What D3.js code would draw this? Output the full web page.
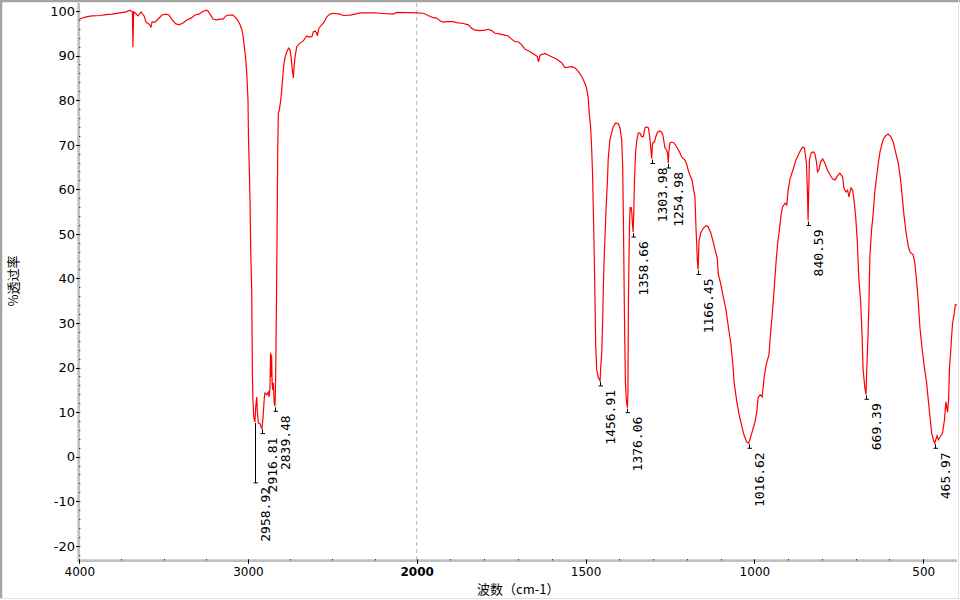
<!DOCTYPE html>
<html>
<head>
<meta charset="utf-8">
<script src="https://cdn.jsdelivr.net/npm/d3@7"></script>
<style>
  body { margin: 0; background: #fff; }
  svg { display: block; }
</style>
</head>
<body>
<div id="chart"></div>
<script>
// spectrum: wavenumber (cm-1) and %T
const wavenumbers = [
  4000, 3960, 3925, 3877, 3842, 3806, 3759, 3723, 3699, 3685, 3682, 3678, 3670, 3652, 3634, 3616,
  3605, 3587, 3575, 3569, 3551, 3533, 3510, 3486, 3468, 3450, 3427, 3409, 3385, 3362, 3338, 3314,
  3290, 3273, 3249, 3237, 3225, 3207, 3190, 3166, 3148, 3131, 3113, 3089, 3071, 3059, 3047, 3036,
  3030, 3024, 3018, 3012, 3006, 3000, 2997, 2992, 2988, 2984, 2978, 2974, 2971, 2966, 2962, 2959,
  2954, 2948, 2945, 2939, 2929, 2923, 2917, 2911, 2903, 2899, 2889, 2880, 2876, 2870, 2866, 2863,
  2860, 2857, 2854, 2850, 2845, 2840, 2836, 2833, 2830, 2826, 2824, 2820, 2814, 2806, 2800, 2794,
  2788, 2781, 2771, 2759, 2751, 2745, 2737, 2731, 2727, 2721, 2711, 2692, 2672, 2652, 2642, 2622,
  2613, 2603, 2593, 2589, 2579, 2563, 2549, 2533, 2514, 2494, 2455, 2435, 2395, 2366, 2336, 2257,
  2217, 2139, 2118, 2000,
  1980, 1966, 1951, 1941, 1931, 1921, 1911, 1892, 1882, 1862, 1847, 1837, 1827, 1813, 1798, 1788,
  1778, 1768, 1753, 1739, 1729, 1719, 1709, 1699, 1689, 1679, 1665, 1655, 1643, 1639, 1635, 1620,
  1605, 1585, 1571, 1561, 1541, 1531, 1521, 1511, 1502, 1497, 1492, 1489, 1485, 1482, 1479, 1477,
  1474, 1472, 1470, 1467, 1462, 1457, 1455, 1452, 1449, 1447, 1445, 1442, 1439, 1435, 1433, 1428,
  1423, 1418, 1411, 1403, 1398, 1393, 1390, 1388, 1385, 1382, 1379, 1376, 1374.5, 1373, 1370, 1368,
  1366, 1365, 1363, 1361, 1359, 1357, 1355, 1352, 1348, 1344, 1339, 1334, 1329, 1324, 1319, 1314,
  1310, 1306, 1304, 1302, 1299, 1296, 1292, 1287, 1280, 1275, 1271, 1265, 1260, 1257, 1255, 1253,
  1250, 1245, 1238, 1230, 1222, 1215, 1206, 1200, 1196, 1191, 1185, 1181, 1176, 1173, 1171, 1169,
  1166.5, 1164, 1162, 1159, 1151, 1143, 1137, 1129, 1122, 1114, 1110, 1107, 1100, 1092, 1084, 1077,
  1070, 1064, 1060, 1052, 1045, 1038, 1031, 1023, 1017, 1011, 1005, 998, 993, 989, 983, 977,
  971, 964, 957, 952, 946, 941, 936, 931, 926, 921, 917, 909, 904, 900, 895, 889,
  883, 877, 870, 863, 857, 852, 846, 843, 841, 839, 837, 832, 826, 821, 816, 813,
  809, 804, 798, 791, 784, 776, 768, 761, 754, 747, 739, 735, 729, 724, 720, 714,
  709, 705, 700, 695, 691, 685, 681, 678, 673, 669.4, 667, 664, 661, 658, 653, 648,
  643, 638, 633, 628, 623, 618, 611, 604, 596, 589, 582, 574, 567, 562, 557, 551,
  544, 539, 530, 525, 520, 515, 510, 503, 497, 490, 485, 480, 475, 470, 466, 462,
  459, 455, 450, 443, 437, 433, 428, 425, 422, 419, 416, 413, 408, 405, 400
];
const transmittance = [
  98.2, 98.7, 98.9, 99.0, 99.2, 99.3, 99.6, 99.8, 100.2, 99.8, 91.9, 99.8, 99.6, 98.9, 99.8, 98.9,
  97.5, 97.1, 96.4, 97.5, 97.5, 98.2, 99.1, 99.3, 99.1, 98.0, 97.1, 96.9, 97.3, 98.0, 98.4, 99.1,
  99.3, 99.8, 100.2, 100.0, 99.3, 98.2, 98.0, 98.2, 98.2, 98.9, 99.1, 99.1, 98.4, 97.8, 96.9, 95.7,
  94.6, 92.8, 90.8, 88.6, 85.0, 80.0, 71.1, 64.3, 57.6, 46.4, 37.4, 18.8, 12.7, 9.0, 8.2, 7.8,
  11.2, 13.4, 10.5, 7.6, 7.4, 6.7, 6.3, 8.7, 13.4, 14.3, 13.9, 14.5, 13.4, 15.0, 23.3, 17.9,
  22.8, 16.6, 15.0, 16.6, 12.3, 11.3, 17.9, 28.5, 39.7, 57.6, 68.1, 77.1, 77.8, 80.0, 82.3, 85.2,
  87.9, 89.5, 90.8, 91.7, 91.3, 89.7, 86.8, 85.0, 87.4, 89.7, 92.0, 92.8, 93.3, 94.4, 94.2, 94.2,
  95.3, 95.5, 95.1, 94.4, 96.2, 96.9, 97.5, 98.7, 99.3, 99.5, 99.3, 99.0, 99.1, 99.3, 99.6, 99.6,
  99.5, 99.3, 99.7, 99.6,
  99.5, 99.0, 98.5, 98.4, 97.8, 97.5, 97.6, 97.6, 97.4, 97.2, 96.9, 96.1, 95.7, 95.6, 95.7, 95.9,
  95.6, 95.0, 94.8, 94.6, 94.4, 93.7, 93.1, 93.1, 92.4, 91.4, 90.9, 90.4, 89.8, 88.6, 90.1, 90.5,
  89.9, 89.2, 88.4, 87.3, 87.5, 87.2, 86.4, 85.3, 83.8, 82.7, 80.4, 77.0, 74.0, 69.5, 62.8, 55.4,
  44.1, 35.2, 25.1, 19.5, 17.7, 17.0, 20.1, 23.3, 31.4, 39.0, 44.1, 50.2, 56.0, 62.1, 66.6, 71.1,
  72.6, 74.0, 74.9, 74.7, 73.8, 71.1, 65.0, 53.8, 32.9, 16.6, 12.5, 11.0, 14.0, 35.2, 51.5, 56.0,
  55.4, 56.0, 54.7, 52.0, 50.4, 55.4, 62.1, 68.1, 71.1, 72.6, 72.6, 71.8, 71.8, 73.8, 74.0, 73.8,
  71.8, 68.5, 66.9, 70.0, 70.6, 70.6, 71.8, 72.8, 73.1, 72.8, 72.2, 69.3, 68.8, 68.0, 65.9, 68.8,
  70.4, 70.6, 70.4, 69.5, 68.4, 67.2, 66.6, 65.5, 64.3, 63.2, 62.1, 60.3, 58.3, 51.5, 48.0, 44.0,
  42.0, 48.6, 49.0, 50.2, 51.3, 51.8, 51.6, 50.2, 48.2, 45.7, 44.6, 41.0, 38.9, 35.8, 32.9, 29.1,
  25.5, 21.0, 16.6, 12.3, 9.4, 7.1, 4.9, 3.3, 3.0, 4.4, 6.0, 7.8, 10.0, 13.2, 13.9, 13.4,
  17.9, 21.0, 22.8, 27.8, 32.9, 38.1, 43.5, 48.0, 50.9, 54.2, 56.0, 56.9, 56.5, 59.8, 62.1, 63.6,
  65.0, 66.6, 67.7, 68.8, 69.5, 69.3, 66.0, 59.8, 53.0, 59.8, 66.6, 68.1, 68.4, 68.0, 66.1, 63.9,
  64.3, 66.1, 66.8, 65.9, 64.3, 63.2, 62.3, 62.1, 63.0, 63.6, 62.8, 60.3, 59.4, 59.8, 58.3, 60.3,
  59.8, 57.6, 53.8, 48.0, 40.3, 34.5, 26.9, 19.5, 15.5, 14.0, 20.0, 26.2, 33.6, 44.8, 50.9, 54.7,
  59.8, 62.8, 65.9, 68.4, 69.9, 71.3, 72.0, 72.4, 71.8, 70.6, 68.4, 65.9, 62.1, 58.3, 54.2, 50.4,
  47.1, 45.9, 45.3, 43.5, 39.7, 35.2, 29.1, 24.0, 20.2, 16.6, 12.7, 8.9, 5.3, 3.8, 3.0, 4.0,
  4.7, 3.8, 4.4, 5.3, 8.3, 12.3, 10.0, 12.7, 20.2, 23.2, 26.9, 30.0, 32.2, 34.1, 34.0
];

// picked peaks
const peakWn = [2958.92, 2916.81, 2839.48, 1456.91, 1376.06, 1358.66, 1303.98, 1254.98, 1166.45, 1016.62, 840.59, 669.39, 465.97];
const peakT = [7.8, 6.3, 11.3, 17.0, 11.0, 50.4, 66.9, 65.9, 42.0, 3.0, 53.0, 14.0, 3.0];

const xMajorTicks = [4000, 3000, 2000, 1500, 1000, 500];
const xMinorTicks = [3750, 3500, 3250, 2750, 2500, 2250, 1900, 1800, 1700, 1600, 1400, 1300, 1200, 1100, 900, 800, 700, 600];
const yMajorTicks = [100, 90, 80, 70, 60, 50, 40, 30, 20, 10, 0, -10, -20];
const yMinorTicks = d3.range(-22, 101, 2);

const width = 960;
const height = 600;

const svg = d3.select("#chart")
  .append("svg")
  .attr("width", width)
  .attr("height", height);

// the wavenumber axis changes scale at 2000
const x = d3.scaleLinear()
  .domain([4000, 2000, 400])
  .range([79.3, 416.7, 957]);

const y = d3.scaleLinear()
  .domain([-23.3, 101.8])
  .range([560.5, 3]);

// outer frame
svg.append("line").attr("x1", 1).attr("x2", 1).attr("y1", 0).attr("y2", 598)
  .attr("stroke", "#a4a4a4").attr("stroke-width", 2.5);
svg.append("line").attr("x1", 0).attr("x2", 960).attr("y1", 1).attr("y2", 1)
  .attr("stroke", "#a4a4a4").attr("stroke-width", 2.5);
svg.append("line").attr("x1", 958.5).attr("x2", 958.5).attr("y1", 0).attr("y2", 599)
  .attr("stroke", "#e2e2e2");
svg.append("line").attr("x1", 0).attr("x2", 960).attr("y1", 598.5).attr("y2", 598.5)
  .attr("stroke", "#e2e2e2");

// dashed divider at 2000
svg.append("line")
  .attr("x1", x(2000)).attr("x2", x(2000))
  .attr("y1", y(101.8)).attr("y2", y(-23.3))
  .attr("stroke", "#b4b4b4")
  .attr("stroke-dasharray", "4,3");

// axis bars
svg.append("rect")
  .attr("x", x(4000) - 2).attr("y", y(101.8))
  .attr("width", 2.7).attr("height", y(-23.3) - y(101.8) + 1.5)
  .attr("fill", "#c0c0c0");
svg.append("rect")
  .attr("x", x(4000) - 2).attr("y", y(-23.3) - 1.2)
  .attr("width", x(400) - x(4000) + 2).attr("height", 2.7)
  .attr("fill", "#c0c0c0");

// y ticks
svg.append("g")
  .selectAll("rect")
  .data(yMinorTicks)
  .join("rect")
  .attr("x", x(4000))
  .attr("y", d => Math.round(y(d)))
  .attr("width", 1).attr("height", 1)
  .attr("fill", "#000");

svg.append("g")
  .selectAll("rect")
  .data(yMajorTicks)
  .join("rect")
  .attr("x", x(4000) - 3.3)
  .attr("y", d => Math.round(y(d)))
  .attr("width", 3).attr("height", 1)
  .attr("fill", "#000");

svg.append("g")
  .selectAll("text")
  .data(yMajorTicks)
  .join("text")
  .attr("x", 75)
  .attr("y", d => y(d) + 4.8)
  .attr("text-anchor", "end")
  .style("font-family", "DejaVu Sans")
  .style("font-size", "13px")
  .text(d => d);

// x ticks
svg.append("g")
  .selectAll("rect")
  .data(xMinorTicks)
  .join("rect")
  .attr("x", d => Math.round(x(d)))
  .attr("y", y(-23.3) - 1.2)
  .attr("width", 1).attr("height", 1)
  .attr("fill", "#000");

svg.append("g")
  .selectAll("rect")
  .data(xMajorTicks)
  .join("rect")
  .attr("x", d => Math.round(x(d)))
  .attr("y", y(-23.3) - 1.2)
  .attr("width", 1).attr("height", 4.5)
  .attr("fill", "#000");

svg.append("g")
  .selectAll("text")
  .data(xMajorTicks)
  .join("text")
  .attr("x", d => x(d) + 0.5)
  .attr("y", 576)
  .attr("text-anchor", "middle")
  .style("font-family", "DejaVu Sans")
  .style("font-size", "12px")
  .style("font-weight", d => d === 2000 ? "bold" : "normal")
  .text(d => d);

// axis titles
svg.append("text")
  .attr("x", 477)
  .attr("y", 594)
  .style("font-family", "Noto Sans CJK SC")
  .style("font-size", "13px")
  .text("波数（cm-1）");

svg.append("text")
  .attr("transform", "translate(18,281) rotate(-90)")
  .attr("text-anchor", "middle")
  .style("font-family", "Noto Sans CJK SC")
  .style("font-size", "13px")
  .text("%透过率");

// spectrum
const line = d3.line()
  .x(d => x(d[0]))
  .y(d => y(d[1]));

svg.append("path")
  .datum(d3.zip(wavenumbers, transmittance))
  .attr("fill", "none")
  .attr("stroke", "#ff0000")
  .attr("stroke-width", 1.2)
  .attr("d", line);

// peak markers and labels; the first label is pushed down to clear its neighbour
const peaks = d3.zip(peakWn, peakT);
const extraDrop = i => (i === 0 ? 56 : 0);

const pk = svg.append("g");
pk.selectAll("path")
  .data(peaks)
  .join("path")
  .attr("fill", "none")
  .attr("stroke", "#000")
  .attr("stroke-width", 1)
  .attr("d", (d, i) => {
    const px = Math.round(x(d[0])) + 0.5;
    const py = y(d[1]) + 1;
    const end = py + 4 + extraDrop(i);
    return `M${px},${py}V${end}M${px - 2},${end}H${px + 2.5}`;
  });

pk.selectAll("text")
  .data(peaks)
  .join("text")
  .attr("transform", (d, i) => `translate(${x(d[0]) + 15},${y(d[1]) + 9 + extraDrop(i)}) rotate(-90)`)
  .attr("text-anchor", "end")
  .style("font-family", "DejaVu Sans Mono")
  .style("font-size", "13px")
  .text(d => d[0].toFixed(2));
</script>
</body>
</html>
